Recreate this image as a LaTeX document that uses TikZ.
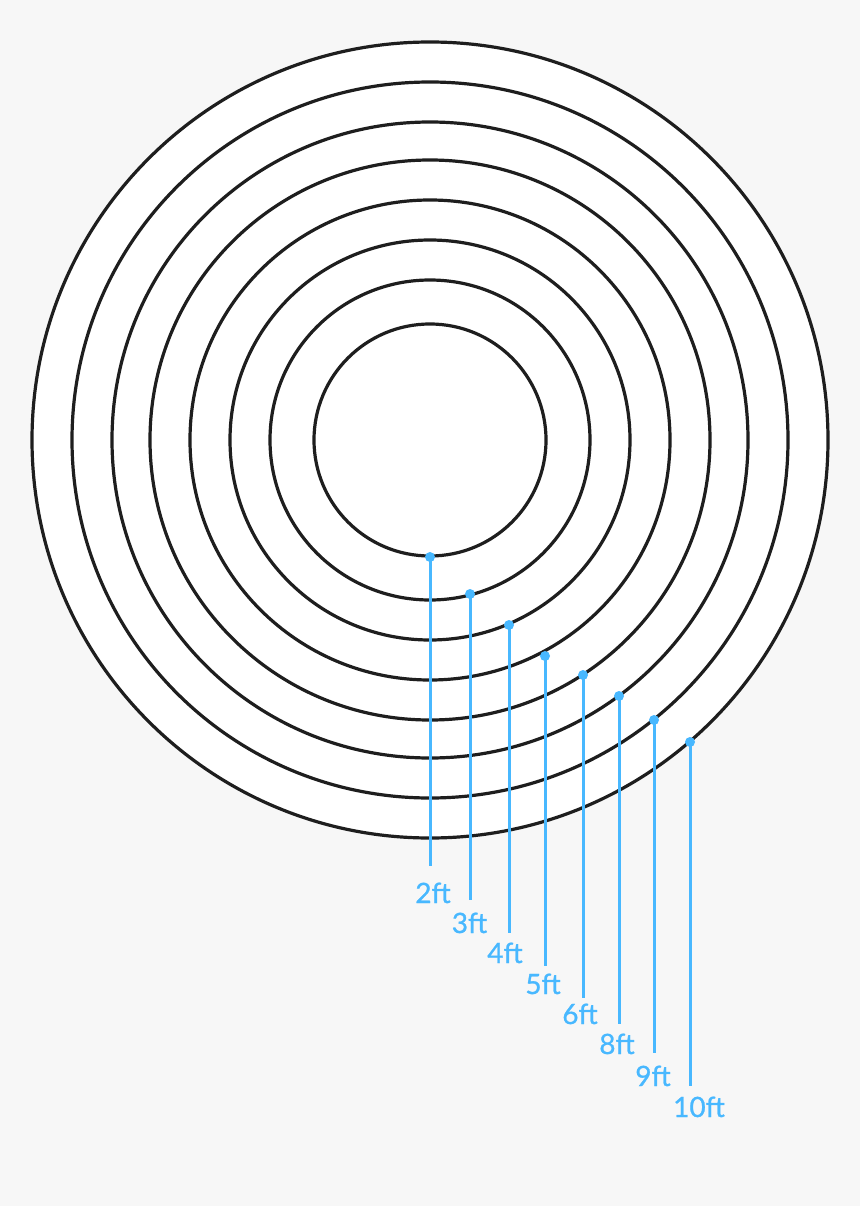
\documentclass[tikz,border=0pt]{standalone}
\usepackage{fontspec}
\setmainfont{Lato}
\newfontfamily\lblfont{Lato}[FakeBold=0.9]
\definecolor{bg}{HTML}{F7F7F7}
\definecolor{ring}{HTML}{1E1E1E}
\definecolor{lbl}{HTML}{48B8FF}
\begin{document}
\begin{tikzpicture}[x=1pt,y=-1pt,
  ringline/.style={draw=ring,line width=3.2pt},
  leader/.style={draw=lbl,line width=3pt},
  dotmark/.style={circle,fill=lbl,inner sep=0pt,minimum size=10pt},
  ftlabel/.style={anchor=base,text=lbl,inner sep=0pt,font=\lblfont\fontsize{28}{30}\selectfont}]
\useasboundingbox (0,0) rectangle (860,1206);
\fill[bg] (0,0) rectangle (860,1206);
\coordinate (c) at (430,440);
\fill[white] (c) circle [radius=398pt];
\foreach \r in {398,358,318,280,240,200,160,116}
  \draw[ringline] (c) circle [radius=\r pt];
% dots on rings
\node[dotmark] (d2) at (430,557) {};
\node[dotmark] (d3) at (470,594) {};
\node[dotmark] (d4) at (509,625) {};
\node[dotmark] (d5) at (545,656) {};
\node[dotmark] (d6) at (583,675) {};
\node[dotmark] (d8) at (619,696) {};
\node[dotmark] (d9) at (654,720) {};
\node[dotmark] (d10) at (690,742) {};
% leader ends
\coordinate (e2) at (430,866);
\coordinate (e3) at (470,900);
\coordinate (e4) at (509,933);
\coordinate (e5) at (545,966);
\coordinate (e6) at (583,998);
\coordinate (e8) at (619,1024);
\coordinate (e9) at (654,1053);
\coordinate (e10) at (690,1086);
\foreach \k in {2,3,4,5,6,8,9,10}
  \draw[leader] (d\k.center) -- (e\k);
% labels
\node[ftlabel] (l2) at (433,903) {2ft};
\node[ftlabel] (l3) at (469.5,933) {3ft};
\node[ftlabel] (l4) at (505,963) {4ft};
\node[ftlabel] (l5) at (543,994) {5ft};
\node[ftlabel] (l6) at (580,1024) {6ft};
\node[ftlabel] (l8) at (617,1054) {8ft};
\node[ftlabel] (l9) at (653,1086) {9ft};
\node[ftlabel] (l10) at (699,1117) {10ft};
\end{tikzpicture}
\end{document}
